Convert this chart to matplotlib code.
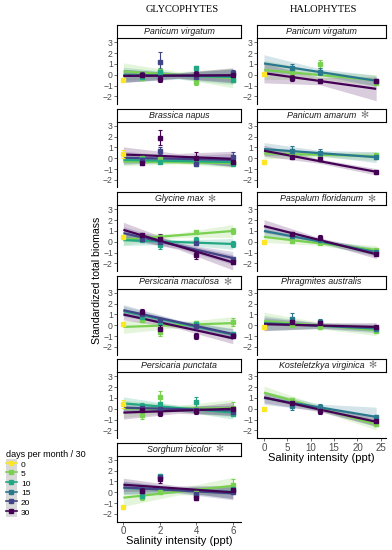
import numpy as np
import matplotlib
matplotlib.use("Agg")
import matplotlib.pyplot as plt
from matplotlib.patches import Rectangle
from matplotlib.lines import Line2D
from matplotlib.legend_handler import HandlerTuple

plt.rcParams['font.family'] = ['Liberation Sans', 'DejaVu Sans']

# ---- data ----
days = [0, 5, 10, 15, 20, 30]

glyco_names = ['Panicum virgatum', 'Brassica napus', 'Glycine max',
               'Persicaria maculosa', 'Persicaria punctata', 'Sorghum bicolor']
glyco_star = [False, False, True, True, False, True]
glyco_x = [1, 2, 4, 6]
glyco_groups = [5, 10, 20, 30]
glyco_ctrl = [-0.45, 0.4, 0.45, 0.1, 0.43, -1.4]
glyco_ctrl_err = [0.15, 0.35, 0.15, 0.15, 0.35, 0.1]
# mean[panel][group][x]
glyco_mean = [
    [[-0.3, 0.35, -0.7, -0.5], [-0.2, 0.3, 0.6, -0.45], [-0.05, 1.15, -0.2, 0.15], [-0.05, -0.35, 0.05, 0.0]],
    [[0.0, -0.1, -0.35, -0.45], [-0.1, -0.3, -0.3, -0.5], [-0.2, 0.7, -0.5, 0.1], [-0.4, 1.9, 0.05, -0.3]],
    [[0.25, 0.4, 0.95, 1.0], [0.2, -0.3, 0.2, -0.2], [0.3, -0.05, -0.1, -1.55], [0.6, 0.3, -1.25, -1.85]],
    [[0.5, -0.65, 0.25, 0.3], [0.8, 0.3, 0.1, -0.8], [1.0, 0.5, -0.1, -0.9], [1.2, -0.3, -1.0, -1.0]],
    [[-0.6, 1.1, 0.0, 0.1], [0.3, 0.4, 0.6, -0.5], [0.1, 0.0, -0.15, -0.3], [-0.1, -0.4, -0.25, 0.0]],
    [[-0.4, 0.0, -0.1, 0.7], [-0.3, 1.5, -0.3, 0.3], [0.1, 1.4, -0.2, 0.0], [0.15, 1.25, -0.5, 0.2]],
]
glyco_err = [
    [[0.15, 0.2, 0.2, 0.15], [0.15, 0.3, 0.2, 0.15], [0.3, 1.0, 0.2, 0.25], [0.2, 0.35, 0.3, 0.2]],
    [[0.15, 0.1, 0.15, 0.15], [0.2, 0.1, 0.15, 0.15], [0.2, 0.3, 0.2, 0.5], [0.2, 0.7, 0.5, 0.3]],
    [[0.15, 0.15, 0.15, 0.3], [0.15, 0.35, 0.25, 0.25], [0.15, 0.2, 0.15, 0.15], [0.15, 0.4, 0.35, 0.2]],
    [[0.2, 0.3, 0.15, 0.4], [0.2, 0.2, 0.15, 0.2], [0.2, 0.2, 0.15, 0.2], [0.35, 0.3, 0.3, 0.2]],
    [[0.3, 0.55, 0.15, 0.5], [0.25, 0.2, 0.5, 0.15], [0.15, 0.15, 0.15, 0.15], [0.2, 0.25, 0.2, 0.2]],
    [[0.35, 0.15, 0.15, 0.55], [0.3, 0.2, 0.15, 0.2], [0.2, 0.2, 0.15, 0.2], [0.25, 0.35, 0.2, 0.2]],
]
# fitted line value at x=0 and x=6
glyco_fit = [
    [[0.3, -0.3], [0.0, -0.2], [-0.1, -0.05], [-0.1, -0.05]],
    [[-0.3, -0.45], [-0.15, -0.35], [0.05, -0.15], [0.35, -0.05]],
    [[0.2, 1.0], [0.15, -0.2], [0.8, -1.5], [1.1, -1.9]],
    [[-0.15, 0.2], [1.3, -0.85], [1.4, -0.8], [1.0, -1.2]],
    [[0.0, 0.05], [0.5, -0.35], [0.1, -0.15], [-0.35, 0.0]],
    [[-0.5, 0.6], [0.4, 0.05], [0.45, -0.1], [0.7, 0.0]],
]
# ribbon half width at x = 0, 3, 6
glyco_band_x = [0, 3, 6]
glyco_band = [
    [[0.8, 0.3, 0.9], [0.7, 0.3, 0.7], [0.6, 0.25, 0.6], [0.6, 0.25, 0.7]],
    [[0.4, 0.15, 0.4], [0.4, 0.15, 0.4], [0.6, 0.25, 0.6], [0.7, 0.3, 0.7]],
    [[0.5, 0.2, 0.6], [0.5, 0.2, 0.5], [0.6, 0.25, 0.6], [0.7, 0.3, 0.7]],
    [[0.6, 0.25, 0.6], [0.5, 0.2, 0.5], [0.5, 0.2, 0.5], [0.5, 0.2, 0.5]],
    [[0.8, 0.3, 0.8], [0.6, 0.25, 0.6], [0.5, 0.2, 0.5], [0.6, 0.25, 0.6]],
    [[0.8, 0.3, 0.8], [0.6, 0.25, 0.6], [0.6, 0.25, 0.6], [0.6, 0.25, 0.6]],
]

halo_names = ['Panicum virgatum', 'Panicum amarum', 'Paspalum floridanum',
              'Phragmites australis', 'Kosteletzkya virginica']
halo_star = [False, True, True, False, True]
halo_x = [6, 12, 24]
halo_groups = [5, 15, 30]
halo_ctrl = [0.05, -0.3, -0.05, -0.2, 0.0]
halo_ctrl_err = [0.1, 0.1, 0.1, 0.1, 0.05]
halo_mean = [
    [[0.3, 1.0, -0.8], [0.6, 0.3, -0.6], [-0.3, -0.6, -0.6]],
    [[0.4, 0.3, 0.3], [0.7, 0.5, 0.1], [0.15, -0.05, -1.25]],
    [[0.05, -0.1, -0.8], [0.55, 0.2, -0.95], [0.7, 0.35, -1.15]],
    [[0.0, -0.15, -0.5], [0.6, 0.3, -0.3], [0.35, 0.2, -0.15]],
    [[0.85, 0.0, -1.45], [0.3, 0.2, -0.75], [0.55, -0.25, -1.15]],
]
halo_err = [
    [[0.2, 0.4, 0.15], [0.4, 0.3, 0.15], [0.3, 0.15, 0.1]],
    [[0.15, 0.15, 0.2], [0.4, 0.4, 0.2], [0.2, 0.2, 0.1]],
    [[0.2, 0.15, 0.15], [0.2, 0.2, 0.1], [0.2, 0.3, 0.1]],
    [[0.2, 0.15, 0.1], [0.5, 0.3, 0.1], [0.3, 0.3, 0.1]],
    [[0.15, 0.15, 0.15], [0.4, 0.25, 0.15], [0.2, 0.2, 0.15]],
]
halo_fit = [
    [[0.45, -0.5], [1.05, -0.55], [0.15, -1.3]],
    [[0.45, 0.2], [0.85, 0.1], [0.7, -1.25]],
    [[0.45, -0.75], [1.0, -0.95], [1.45, -1.15]],
    [[0.4, -0.45], [0.2, -0.3], [0.1, -0.15]],
    [[1.5, -1.45], [1.0, -0.75], [1.05, -1.2]],
]
halo_band_x = [0, 12, 24]
halo_band = [
    [[0.9, 0.35, 0.5], [0.8, 0.3, 0.5], [0.9, 0.35, 1.1]],
    [[0.5, 0.2, 0.4], [0.6, 0.25, 0.5], [0.5, 0.2, 0.3]],
    [[0.5, 0.2, 0.4], [0.5, 0.2, 0.4], [0.6, 0.2, 0.4]],
    [[0.8, 0.3, 0.5], [0.7, 0.25, 0.4], [0.6, 0.25, 0.4]],
    [[0.6, 0.25, 0.5], [0.6, 0.3, 0.9], [0.5, 0.2, 0.4]],
]

# ---- figure ----
W, H = 392, 550
fig = plt.figure(figsize=(W / 100, H / 100), dpi=100)
colors = dict(zip(days, plt.cm.viridis(np.linspace(1, 0, len(days)))))
tick_grey = '#4D4D4D'


def box(x0, y0, x1, y1):
    return [x0 / W, 1 - y1 / H, (x1 - x0) / W, (y1 - y0) / H]


columns = [
    dict(names=glyco_names, star=glyco_star, x=glyco_x, groups=glyco_groups,
         ctrl=glyco_ctrl, ctrl_err=glyco_ctrl_err, mean=glyco_mean, err=glyco_err,
         fit=glyco_fit, band=glyco_band, band_x=glyco_band_x,
         xlim=(-0.35, 6.45), xticks=[0, 2, 4, 6], left=117, right=241),
    dict(names=halo_names, star=halo_star, x=halo_x, groups=halo_groups,
         ctrl=halo_ctrl, ctrl_err=halo_ctrl_err, mean=halo_mean, err=halo_err,
         fit=halo_fit, band=halo_band, band_x=halo_band_x,
         xlim=(-1.5, 26.1), xticks=[0, 5, 10, 15, 20, 25], left=257, right=386),
]

for c in columns:
    n = len(c['names'])
    for i in range(n):
        top = 25 + 83.5 * i
        ax = fig.add_axes(box(c['left'], top + 13, c['right'], top + 79))
        ax.set_facecolor('none')
        strip = fig.add_axes(box(c['left'], top, c['right'], top + 13))
        strip.set_xticks([])
        strip.set_yticks([])
        for s in strip.spines.values():
            s.set_linewidth(0.8)
        name = strip.text(0.5, 0.5, c['names'][i], style='italic', ha='center',
                          va='center', fontsize=6.4, color='#1a1a1a')
        if c['star'][i]:
            strip.annotate('\u273B', xy=(1, 0.5), xycoords=name, xytext=(3, 0),
                           textcoords='offset points', ha='left', va='center',
                           fontsize=7, color='#777777', family='DejaVu Sans')

        ax.set_xlim(*c['xlim'])
        ax.set_ylim(-2.7, 3.4)
        ax.spines['top'].set_visible(False)
        ax.spines['right'].set_visible(False)
        ax.spines['left'].set_linewidth(0.8)
        ax.set_yticks(range(-2, 4))
        ax.tick_params(axis='both', length=2, width=0.5, color='#333333',
                       labelsize=6.2, labelcolor=tick_grey, pad=1)
        if i == n - 1:
            ax.set_xticks(c['xticks'])
            ax.spines['bottom'].set_linewidth(0.8)
            ax.tick_params(axis='x', labelsize=7, pad=1.5)
            ax.set_xlabel('Salinity intensity (ppt)', fontsize=8, labelpad=0)
        else:
            ax.set_xticks([])
            ax.spines['bottom'].set_visible(False)

        bx = np.array(c['band_x'])
        for g, grp in enumerate(c['groups']):
            f0, f1 = c['fit'][i][g]
            mid = f0 + (f1 - f0) * (bx - bx[0]) / (bx[-1] - bx[0])
            hw = np.array(c['band'][i][g])
            ax.fill_between(bx, mid - hw, mid + hw, color=colors[grp], alpha=0.2,
                            lw=0, zorder=1)
        for g, grp in enumerate(c['groups']):
            f0, f1 = c['fit'][i][g]
            ax.plot([bx[0], bx[-1]], [f0, f1], color=colors[grp], lw=1.6,
                    zorder=2, solid_capstyle='butt')
        for g, grp in enumerate(c['groups']):
            ax.errorbar(c['x'], c['mean'][i][g], yerr=c['err'][i][g],
                        fmt='s', ms=3.4, color=colors[grp], ecolor=colors[grp],
                        elinewidth=0.8, capsize=1.5, capthick=0.8, zorder=3)
        ax.errorbar([0], [c['ctrl'][i]], yerr=[c['ctrl_err'][i]], fmt='s', ms=3.4,
                    color=colors[0], elinewidth=0.8, capsize=1.5, capthick=0.8,
                    zorder=3)

fig.text(182 / W, 1 - 9 / H, 'GLYCOPHYTES', family='Liberation Serif',
         fontsize=7.5, ha='center', va='center')
fig.text(323 / W, 1 - 9 / H, 'HALOPHYTES', family='Liberation Serif',
         fontsize=7.5, ha='center', va='center')
fig.text(97.5 / W, 1 - 280 / H, 'Standardized total biomass', rotation=90,
         fontsize=7.6, ha='center', va='center')

handles = []
for d in days:
    bg = Rectangle((0, 0), 1, 1, facecolor='#D9D9D9', edgecolor='none')
    ln = Line2D([], [], color=colors[d], lw=1.2, marker='s', ms=3)
    handles.append((bg, ln))
leg = fig.legend(handles, [str(d) for d in days], title='days per month / 30',
                 handler_map={tuple: HandlerTuple(ndivide=1)},
                 loc='upper left', bbox_to_anchor=(6 / W, 1 - 450 / H),
                 frameon=False, fontsize=6, title_fontsize=6.5,
                 handlelength=1.3, handleheight=1.4, labelspacing=0.0,
                 handletextpad=0.5, borderpad=0, borderaxespad=0,
                 alignment='left')

fig.savefig('out.png', dpi=100)
